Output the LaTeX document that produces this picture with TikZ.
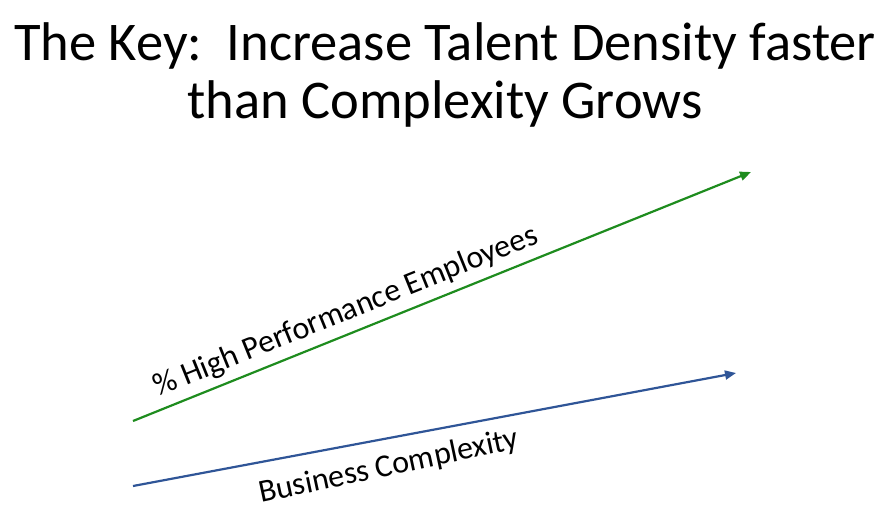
\documentclass[tikz,border=0pt]{standalone}
\usepackage{fontspec}
\setmainfont{Carlito}
\usetikzlibrary{arrows.meta}
\definecolor{lgreen}{RGB}{30,140,30}
\definecolor{lblue}{RGB}{47,85,151}
\begin{document}
\begin{tikzpicture}[x=1pt,y=1pt,
  trend/.style={line width=2.2pt,-{Triangle[length=11pt,width=9pt]}},
  lbl/.style={font=\fontsize{32}{32}\selectfont,inner sep=0pt}]
\useasboundingbox (0,0) rectangle (889,-523);
\node[font=\fontsize{54.5}{58}\selectfont,align=center,inner sep=0pt,anchor=base] (title) at (445,-118)
  {The Key:\ \ Increase Talent Density faster\\than Complexity Grows};
\coordinate (g1) at (133,-421);
\coordinate (g2) at (751,-172);
\coordinate (b1) at (133,-486);
\coordinate (b2) at (736,-373);
\draw[trend,lgreen] (g1) -- (g2);
\draw[trend,lblue] (b1) -- (b2);
\node[lbl,rotate=22] (gl) at (346,-312) {\% High Performance Employees};
\node[lbl,rotate=12] (bl) at (389,-467) {Business Complexity};
\end{tikzpicture}
\end{document}
